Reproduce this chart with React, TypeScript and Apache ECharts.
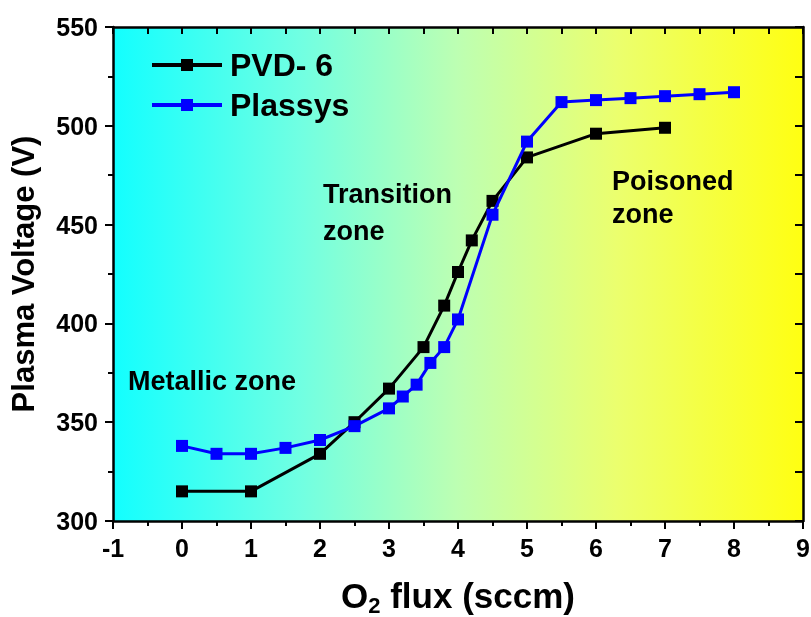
import React, { useEffect, useRef } from "react";
import * as echarts from "echarts";

const pvdX = [0, 1, 2, 2.5, 3, 3.5, 3.8, 4, 4.2, 4.5, 5, 6, 7];
const pvdY = [315, 315, 334, 350, 367, 388, 409, 426, 442, 462, 484, 496, 499];
const plassysX = [0, 0.5, 1, 1.5, 2, 2.5, 3, 3.2, 3.4, 3.6, 3.8, 4, 4.5, 5, 5.5, 6, 6.5, 7, 7.5, 8];
const plassysY = [338, 334, 334, 337, 341, 348, 357, 363, 369, 380, 388, 402, 455, 492, 512, 513, 514, 515, 516, 517];
const seriesNames = ["PVD- 6", "Plassys"];
const xTitle = "O{sub|2} flux (sccm)";
const yTitle = "Plasma Voltage (V)";

const FONT = "'Liberation Sans', Arial, sans-serif";

export default function App() {
  const ref = useRef<HTMLDivElement>(null);
  useEffect(() => {
    if (!ref.current) return;
    const chart = echarts.init(ref.current, undefined, { renderer: "svg" });
    const grad = new echarts.graphic.LinearGradient(0, 0, 1, 0, [
      { offset: 0, color: "#12FFFF" },
      { offset: 0.27, color: "#70FFE2" },
      { offset: 0.5, color: "#BDFFB2" },
      { offset: 0.73, color: "#EBFF6E" },
      { offset: 1, color: "#FFFF12" },
    ]);
    const axisLine = { show: true, onZero: false, lineStyle: { color: "#000", width: 2.5 } };
    const labelStyle = { fontFamily: FONT, fontWeight: "bold" as const, fontSize: 25, color: "#000" };
    const annot = (text: string, x: number, y: number) => ({
      type: "text",
      left: x,
      top: y - 14,
      z: 10,
      style: { text, fontFamily: FONT, fontWeight: "bold", fontSize: 27, fill: "#000" },
    });
    chart.setOption({
      animation: false,
      textStyle: { fontFamily: FONT },
      grid: {
        left: 113,
        right: 8,
        top: 27,
        bottom: 96,
        show: true,
        backgroundColor: grad,
        borderWidth: 0,
        containLabel: false,
        outerBoundsMode: "none",
      },
      legend: {
        left: 150,
        top: 49,
        padding: 0,
        orient: "vertical",
        itemWidth: 70,
        itemHeight: 15,
        itemGap: 8,
        data: seriesNames,
        lineStyle: { width: 4 },
        textStyle: { fontFamily: FONT, fontWeight: "bold", fontSize: 32, color: "#000", padding: [0, 0, 0, 3] },
      },
      xAxis: [
        {
          type: "value",
          min: -1,
          max: 9,
          interval: 1,
          position: "bottom",
          axisLine,
          axisTick: { show: true, inside: false, length: 8, lineStyle: { color: "#000", width: 2 } },
          minorTick: { show: true, splitNumber: 2, length: 5, lineStyle: { color: "#000", width: 2 } },
          splitLine: { show: false },
          axisLabel: { ...labelStyle, margin: 14 },
          name: xTitle,
          nameLocation: "middle",
          nameGap: 57,
          nameTextStyle: {
            fontFamily: FONT,
            fontWeight: "bold",
            fontSize: 35,
            color: "#000",
            verticalAlign: "top",
            lineHeight: 34,
            rich: {
              sub: { fontFamily: FONT, fontWeight: "bold", fontSize: 22, lineHeight: 18, padding: [16, 0, 0, 0], verticalAlign: "top", color: "#000" },
            },
          },
        },
        {
          type: "value",
          min: -1,
          max: 9,
          interval: 0.5,
          position: "top",
          axisLine,
          axisTick: { show: true, inside: true, length: 7, lineStyle: { color: "#000", width: 2 } },
          axisLabel: { show: false },
          splitLine: { show: false },
        },
      ],
      yAxis: [
        {
          type: "value",
          min: 300,
          max: 550,
          interval: 50,
          position: "left",
          axisLine,
          axisTick: { show: true, inside: false, length: 8, lineStyle: { color: "#000", width: 2 } },
          minorTick: { show: true, splitNumber: 2, length: 5, lineStyle: { color: "#000", width: 2 } },
          splitLine: { show: false },
          axisLabel: { ...labelStyle, margin: 15 },
          name: yTitle,
          nameLocation: "middle",
          nameGap: 74,
          nameTextStyle: { fontFamily: FONT, fontWeight: "bold", fontSize: 31, color: "#000" },
        },
        {
          type: "value",
          min: 300,
          max: 550,
          interval: 25,
          position: "right",
          axisLine,
          axisTick: { show: true, inside: true, length: 8, lineStyle: { color: "#000", width: 2 } },
          axisLabel: { show: false },
          splitLine: { show: false },
        },
      ],
      series: [
        {
          name: seriesNames[0],
          type: "line",
          xAxisIndex: 0,
          yAxisIndex: 0,
          data: pvdX.map((x, i) => [x, pvdY[i]]),
          symbol: "rect",
          symbolSize: 12,
          lineStyle: { color: "#000", width: 3 },
          itemStyle: { color: "#000" },
          z: 3,
        },
        {
          name: seriesNames[1],
          type: "line",
          xAxisIndex: 0,
          yAxisIndex: 0,
          data: plassysX.map((x, i) => [x, plassysY[i]]),
          symbol: "rect",
          symbolSize: 12,
          lineStyle: { color: "#0000FF", width: 3 },
          itemStyle: { color: "#0000FF" },
          z: 4,
        },
      ],
      graphic: [
        annot("Metallic zone", 128, 381),
        annot("Transition", 323, 194),
        annot("zone", 323, 231),
        annot("Poisoned", 612, 181),
        annot("zone", 612, 214),
      ],
    });
    return () => chart.dispose();
  }, []);
  return <div ref={ref} style={{ position: "fixed", left: 0, top: 0, width: 811, height: 617 }} />;
}
